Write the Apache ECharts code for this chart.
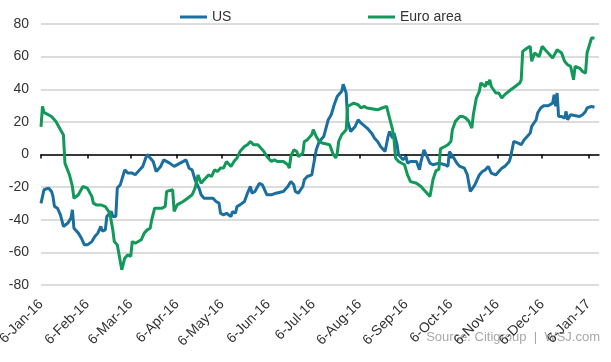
<!DOCTYPE html>
<html>
<head>
<meta charset="utf-8">
<script src="https://cdn.jsdelivr.net/npm/echarts@6/dist/echarts.min.js"></script>
<style>html,body{margin:0;padding:0;background:#fff}#c{width:611px;height:362px}</style>
</head>
<body>
<div id="c"></div>
<script>
const monthTicks = ['2016-01-06','2016-02-06','2016-03-06','2016-04-06','2016-05-06','2016-06-06','2016-07-06','2016-08-06','2016-09-06','2016-10-06','2016-11-06','2016-12-06','2017-01-06'];
const monthNames = ['Jan','Feb','Mar','Apr','May','Jun','Jul','Aug','Sep','Oct','Nov','Dec'];
const yTicks = [-80,-60,-40,-20,0,20,40,60,80];

const usDates = ['2016-01-06','2016-01-08','2016-01-11','2016-01-13','2016-01-14','2016-01-15','2016-01-17','2016-01-19','2016-01-21','2016-01-22','2016-01-24','2016-01-26','2016-01-27','2016-01-28','2016-01-31','2016-02-02','2016-02-04','2016-02-06','2016-02-09','2016-02-11','2016-02-13','2016-02-15','2016-02-16','2016-02-18','2016-02-19','2016-02-22','2016-02-23','2016-02-25','2016-02-26','2016-02-28','2016-03-02','2016-03-04','2016-03-07','2016-03-09','2016-03-12','2016-03-14','2016-03-16','2016-03-17','2016-03-19','2016-03-21','2016-03-23','2016-03-26','2016-03-28','2016-04-01','2016-04-04','2016-04-08','2016-04-12','2016-04-14','2016-04-16','2016-04-18','2016-04-21','2016-04-22','2016-04-24','2016-04-30','2016-05-02','2016-05-04','2016-05-05','2016-05-07','2016-05-09','2016-05-12','2016-05-13','2016-05-15','2016-05-16','2016-05-18','2016-05-21','2016-05-23','2016-05-25','2016-05-26','2016-05-28','2016-05-31','2016-06-01','2016-06-02','2016-06-05','2016-06-08','2016-06-11','2016-06-16','2016-06-19','2016-06-21','2016-06-23','2016-06-24','2016-06-26','2016-06-29','2016-06-30','2016-07-02','2016-07-05','2016-07-06','2016-07-08','2016-07-10','2016-07-13','2016-07-16','2016-07-18','2016-07-20','2016-07-22','2016-07-25','2016-07-26','2016-07-28','2016-07-29','2016-07-31','2016-08-03','2016-08-05','2016-08-07','2016-08-11','2016-08-14','2016-08-16','2016-08-18','2016-08-20','2016-08-23','2016-08-25','2016-08-26','2016-08-28','2016-08-29','2016-08-31','2016-09-01','2016-09-04','2016-09-06','2016-09-07','2016-09-09','2016-09-13','2016-09-15','2016-09-16','2016-09-18','2016-09-19','2016-09-22','2016-09-24','2016-09-28','2016-10-02','2016-10-04','2016-10-05','2016-10-08','2016-10-10','2016-10-12','2016-10-15','2016-10-17','2016-10-18','2016-10-19','2016-10-20','2016-10-22','2016-10-25','2016-10-27','2016-10-29','2016-10-31','2016-11-02','2016-11-05','2016-11-07','2016-11-09','2016-11-11','2016-11-14','2016-11-15','2016-11-16','2016-11-17','2016-11-20','2016-11-22','2016-11-24','2016-11-26','2016-11-28','2016-11-29','2016-12-02','2016-12-03','2016-12-05','2016-12-07','2016-12-10','2016-12-13','2016-12-14','2016-12-15','2016-12-16','2016-12-17','2016-12-19','2016-12-21','2016-12-22','2016-12-23','2016-12-25','2016-12-31','2017-01-02','2017-01-04','2017-01-05','2017-01-06','2017-01-08','2017-01-10'];
const usValues = [-30,-21.6,-20.6,-22.6,-25.7,-31.8,-32.9,-37,-44.1,-43,-42,-39,-33.9,-45.2,-48.2,-51.3,-55.4,-55.4,-53.4,-50.3,-48.2,-44.1,-47,-46.2,-38,-34.9,-38,-38,-20.6,-18.6,-9.4,-11.4,-11.4,-12.4,-9.4,-7.3,-2.2,0,-2.2,-4.3,-10.4,-7.3,-3.3,-5.3,-7.3,-5.3,-3.3,-8.4,-9.4,-15.5,-21.6,-24.7,-26.8,-26.8,-28.8,-29.8,-36,-37,-36,-38,-35,-36,-31.9,-30.9,-28.8,-23.7,-19.6,-23.7,-22.7,-17.6,-16.6,-18.6,-24.7,-24.7,-23.7,-22.7,-19.6,-16.6,-18.6,-22.7,-23.7,-19.6,-15.5,-13.5,-12.5,-7.3,2.9,8,11,21.3,24.4,30.5,35.6,38.7,43,37.7,20.2,14.1,17.2,21.3,19.2,16.2,13.1,10,8,4.9,1.8,11,14.1,10,13.1,6,0,-3.3,-1.2,-5.3,-4.3,-4.3,-9.4,-4.3,2.9,0.8,-5.3,-6.3,-5.3,-6.3,-7.3,1.8,-2.2,-5.3,-7.3,-8.4,-12.5,-17.6,-22.7,-23.7,-18.6,-12.5,-10.4,-9.4,-7.3,-11.4,-12.5,-10.4,-8.4,-7.3,-4.3,-1.2,0,8,7,6,9,11,13.1,17.2,21.3,25.4,28.5,29.9,29.9,31.5,36.6,29.5,37.7,23.3,23.3,22.3,26.4,21.3,24.4,23.3,24.4,26.4,28.5,27.4,29.5,29];

const euroDates = ['2016-01-06','2016-01-07','2016-01-08','2016-01-13','2016-01-16','2016-01-19','2016-01-21','2016-01-22','2016-01-25','2016-01-27','2016-01-28','2016-01-31','2016-02-03','2016-02-06','2016-02-09','2016-02-10','2016-02-12','2016-02-15','2016-02-18','2016-02-21','2016-02-23','2016-02-24','2016-02-26','2016-02-29','2016-03-02','2016-03-04','2016-03-06','2016-03-07','2016-03-09','2016-03-13','2016-03-15','2016-03-17','2016-03-19','2016-03-20','2016-03-22','2016-03-27','2016-03-29','2016-03-30','2016-04-03','2016-04-04','2016-04-05','2016-04-06','2016-04-10','2016-04-13','2016-04-16','2016-04-18','2016-04-20','2016-04-22','2016-04-24','2016-04-27','2016-04-29','2016-05-01','2016-05-03','2016-05-05','2016-05-07','2016-05-09','2016-05-12','2016-05-14','2016-05-16','2016-05-18','2016-05-21','2016-05-23','2016-05-25','2016-05-26','2016-05-27','2016-05-30','2016-06-01','2016-06-03','2016-06-05','2016-06-08','2016-06-10','2016-06-12','2016-06-16','2016-06-19','2016-06-20','2016-06-21','2016-06-23','2016-06-25','2016-06-26','2016-06-29','2016-06-30','2016-07-02','2016-07-05','2016-07-06','2016-07-08','2016-07-10','2016-07-12','2016-07-17','2016-07-19','2016-07-21','2016-07-22','2016-07-23','2016-07-25','2016-07-28','2016-07-29','2016-07-31','2016-08-02','2016-08-05','2016-08-07','2016-08-09','2016-08-11','2016-08-18','2016-08-21','2016-08-24','2016-08-26','2016-08-28','2016-08-29','2016-08-30','2016-09-01','2016-09-05','2016-09-07','2016-09-09','2016-09-13','2016-09-16','2016-09-19','2016-09-22','2016-09-24','2016-09-26','2016-09-28','2016-09-29','2016-10-02','2016-10-04','2016-10-06','2016-10-07','2016-10-09','2016-10-12','2016-10-14','2016-10-16','2016-10-18','2016-10-20','2016-10-21','2016-10-23','2016-10-25','2016-10-26','2016-10-29','2016-10-30','2016-10-31','2016-11-01','2016-11-02','2016-11-05','2016-11-07','2016-11-09','2016-11-11','2016-11-15','2016-11-18','2016-11-21','2016-11-22','2016-11-23','2016-11-26','2016-11-28','2016-11-29','2016-12-01','2016-12-04','2016-12-06','2016-12-08','2016-12-10','2016-12-13','2016-12-14','2016-12-16','2016-12-19','2016-12-21','2016-12-23','2016-12-25','2016-12-26','2016-12-27','2016-12-28','2016-12-31','2017-01-02','2017-01-04','2017-01-05','2017-01-06','2017-01-08','2017-01-10'];
const euroValues = [17,29.5,25.8,23.3,20.2,15.2,12,-5.3,-12.4,-19.6,-26.8,-24.7,-19.6,-20.6,-25.7,-29.8,-30.9,-30.9,-31.9,-35.9,-46.2,-53.3,-55.4,-70.7,-63.6,-61.5,-62.5,-53.3,-54.4,-52.3,-48.2,-46.2,-45.2,-40,-32.9,-32.9,-31.9,-22.6,-21.6,-34.9,-36,-30.9,-28.8,-26.8,-24.7,-20.6,-12.5,-17.6,-15.5,-12.5,-13.5,-9.4,-10.4,-8.3,-8.3,-4.3,-7.3,-4.3,-2.2,1.8,4.9,6,8,9,6,6,3.9,1.8,-1.2,-4.3,-3.3,-4.3,-4.3,-6.3,-8.3,-1.2,2.9,1.8,-1.2,0.8,8,9,12.1,15.2,11,8,7,6,0.8,-2.2,0.8,8,12.1,15.2,29.5,30.5,31.5,30.5,28.5,29.5,28.5,27.4,28.5,29.5,22.3,15.2,9,-2.2,-4.3,-6.3,-12.5,-16.6,-17.6,-19.6,-22.7,-25.8,-15.5,-10,-9,3.5,4.9,6,8,15.2,20.3,23.3,23.3,22.3,20.3,16.2,24.4,34.6,38.7,43.8,41.7,44.8,42.8,45.8,41.7,37.7,37.7,34.6,36.7,39.7,41.7,43.8,45.8,63.2,65.3,66.3,57.1,62.2,60.1,66.3,64.2,62.2,59.1,58,64.2,62.2,57.1,55,54,53,45.8,54,53,50.9,49.9,62.2,61,71.4,71.4];

const FONT = 'Liberation Sans, Arial, Helvetica, sans-serif';
const toTime = s => { const p = s.split('-'); return new Date(+p[0], +p[1]-1, +p[2]).getTime(); };
const tickTimes = monthTicks.map(toTime);
const xMin = toTime('2016-01-06');
const xMax = toTime('2017-01-13');
const fmt = v => { const d = new Date(v); return d.getDate() + '-' + monthNames[d.getMonth()] + '-' + String(d.getFullYear()).slice(2); };

const legendBase = {padding: 0, top: 10, icon: 'rect', itemWidth: 27, itemHeight: 3, itemGap: 0,
  textStyle: {fontSize: 14, color: '#333', fontFamily: FONT}};

const chart = echarts.init(document.getElementById('c'), null, {renderer: 'canvas'});
chart.setOption({
  animation: false,
  backgroundColor: '#fff',
  textStyle: {fontFamily: FONT},
  grid: {left: 41, right: 12, top: 24, bottom: 77, containLabel: false, outerBoundsMode: 'none'},
  legend: [
    Object.assign({}, legendBase, {data: ['US'], left: 180}),
    Object.assign({}, legendBase, {data: ['Euro area'], left: 368})
  ],
  xAxis: [
    {type: 'value', min: xMin, max: xMax, position: 'bottom', scale: true,
     axisLine: {show: true, onZero: true, lineStyle: {color: '#000', width: 1.5}},
     axisTick: {show: true, customValues: tickTimes, length: 4, lineStyle: {color: '#000', width: 1.5}},
     axisLabel: {show: false}, splitLine: {show: false}},
    {type: 'value', min: xMin, max: xMax, position: 'bottom', scale: true,
     axisLine: {show: false, onZero: false}, axisTick: {show: false},
     axisLabel: {show: true, customValues: tickTimes, rotate: 45, margin: 17, fontSize: 14, color: '#333', fontFamily: FONT, formatter: fmt, showMinLabel: true, showMaxLabel: true},
     splitLine: {show: false}}
  ],
  yAxis: {type: 'value', min: yTicks[0], max: yTicks[yTicks.length-1], interval: 20,
    axisLine: {show: false}, axisTick: {show: false},
    axisLabel: {fontSize: 14, color: '#333', margin: 12, fontFamily: FONT},
    splitLine: {show: true, lineStyle: {color: '#d0d0d0', width: 1.5}}},
  graphic: [{type: 'text', right: 11, top: 331, z: -1,
    style: {text: 'Source: Citigroup  |  WSJ.com', fill: '#a8a8a8', font: '13px ' + FONT}}],
  series: [
    {name: 'US', type: 'line', xAxisIndex: 0, symbol: 'none', color: '#1b6f9f',
     lineStyle: {width: 3, color: '#1b6f9f'},
     data: usDates.map((d, i) => [toTime(d), usValues[i]])},
    {name: 'Euro area', type: 'line', xAxisIndex: 0, symbol: 'none', color: '#12995a',
     lineStyle: {width: 3, color: '#12995a'},
     data: euroDates.map((d, i) => [toTime(d), euroValues[i]])}
  ]
});
</script>
</body>
</html>
